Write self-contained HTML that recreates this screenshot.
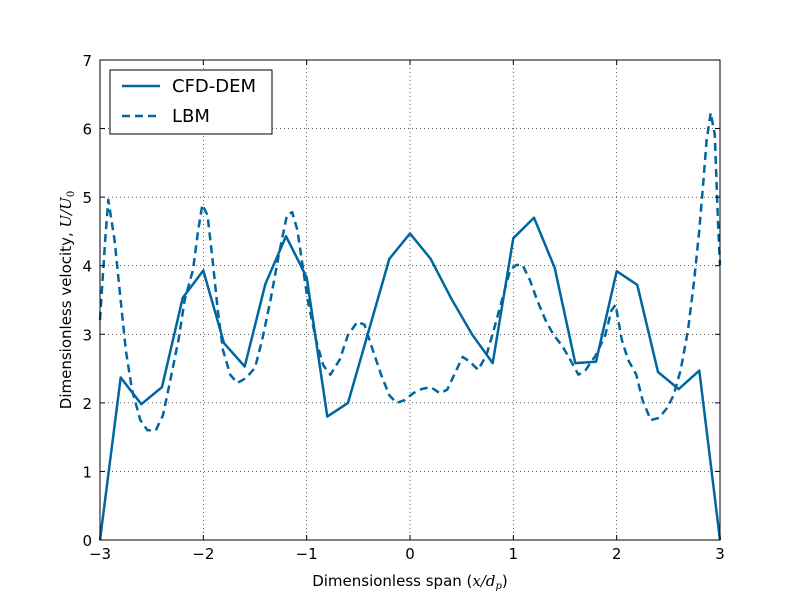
<!DOCTYPE html>
<html><head><meta charset="utf-8"><style>
body{margin:0;background:#fff;}
svg{display:block;font-family:"DejaVu Sans","Liberation Sans",sans-serif;}
</style></head><body>
<svg id="chart" width="800" height="600">
<rect x="0" y="0" width="800" height="600" fill="#fff"/>
<g id="grid"></g>
<g id="series"></g>
<rect x="100" y="60" width="620" height="480" fill="none" stroke="#000" stroke-width="1"/>
<g id="ticks"></g>
<text x="410" y="586" text-anchor="middle" font-size="15">Dimensionless span (<tspan font-style="italic" font-family="DejaVu Serif">x/d</tspan><tspan font-style="italic" font-family="DejaVu Serif" font-size="10" dy="3">p</tspan><tspan dy="-3">)</tspan></text>
<text transform="translate(71,300) rotate(-90)" text-anchor="middle" font-size="15">Dimensionless velocity, <tspan font-style="italic" font-family="DejaVu Serif">U/U</tspan><tspan font-family="DejaVu Serif" font-size="10" dy="3">0</tspan></text>
<g>
<rect x="110" y="70" width="162" height="64" fill="#fff" stroke="#000" stroke-width="1"/>
<line x1="122" y1="86" x2="160" y2="86" stroke="#0066a0" stroke-width="2.5"/>
<text x="172" y="92" font-size="18">CFD-DEM</text>
<line x1="122" y1="116" x2="160" y2="116" stroke="#0066a0" stroke-width="2.5" stroke-dasharray="8,5"/>
<text x="172" y="122" font-size="18">LBM</text>
</g>
</svg>
<script>
const xTicks=[-3,-2,-1,0,1,2,3];
const yTicks=[0,1,2,3,4,5,6,7];
const cfdX=[-3,-2.8,-2.6,-2.4,-2.2,-2,-1.8,-1.6,-1.4,-1.2,-1,-0.8,-0.6,-0.4,-0.2,0,0.2,0.4,0.6,0.8,1,1.2,1.4,1.6,1.8,2,2.2,2.4,2.6,2.8,3];
const cfdY=[0,2.37,1.98,2.23,3.53,3.93,2.87,2.53,3.73,4.43,3.83,1.8,2.0,3.05,4.1,4.47,4.1,3.52,3.0,2.58,4.4,4.7,3.97,2.58,2.6,3.92,3.72,2.45,2.2,2.47,0];
const lbmX=[-3.0,-2.95,-2.92,-2.86,-2.81,-2.75,-2.69,-2.61,-2.54,-2.46,-2.39,-2.32,-2.24,-2.18,-2.10,-2.05,-2.01,-1.96,-1.91,-1.86,-1.81,-1.74,-1.67,-1.59,-1.50,-1.43,-1.35,-1.27,-1.19,-1.14,-1.09,-1.04,-0.99,-0.91,-0.84,-0.77,-0.68,-0.60,-0.51,-0.44,-0.36,-0.28,-0.20,-0.13,-0.05,0.03,0.11,0.20,0.29,0.36,0.44,0.51,0.58,0.66,0.74,0.81,0.89,0.97,1.03,1.09,1.16,1.23,1.31,1.39,1.47,1.55,1.63,1.70,1.80,1.89,1.95,1.99,2.05,2.11,2.19,2.25,2.33,2.41,2.49,2.55,2.62,2.69,2.75,2.80,2.84,2.87,2.91,2.95,2.98,3.0];
const lbmY=[3.21,4.38,4.96,4.38,3.65,2.77,2.19,1.75,1.60,1.60,1.82,2.33,2.92,3.50,3.94,4.52,4.89,4.74,4.08,3.35,2.77,2.41,2.29,2.36,2.51,2.92,3.50,4.16,4.74,4.78,4.52,4.01,3.50,2.92,2.55,2.41,2.63,2.99,3.18,3.14,2.77,2.41,2.11,2.00,2.04,2.14,2.20,2.23,2.14,2.19,2.45,2.67,2.60,2.48,2.70,3.06,3.50,3.94,4.01,4.01,3.79,3.50,3.21,2.99,2.84,2.63,2.41,2.48,2.70,2.99,3.35,3.43,2.92,2.63,2.41,2.04,1.75,1.78,1.93,2.11,2.48,3.06,3.79,4.52,5.25,5.83,6.23,5.91,4.67,4.01];
const NS="http://www.w3.org/2000/svg";
const X0=100,X1=720,Y0=540,Y1=60;
function sx(v){return X0+(v+3)/6*(X1-X0);}
function sy(v){return Y0-v/7*(Y0-Y1);}
function mk(tag,attrs,parent){const e=document.createElementNS(NS,tag);for(const k in attrs)e.setAttribute(k,attrs[k]);parent.appendChild(e);return e;}
const grid=document.getElementById('grid'),ticks=document.getElementById('ticks'),series=document.getElementById('series');
xTicks.forEach(t=>{
  const x=sx(t);
  const g=mk('line',{x1:x,y1:Y1,x2:x,y2:Y0,stroke:'#000','stroke-width':0.6,'stroke-dasharray':'1,3'},grid);
  
  
  const a=mk('line',{x1:x,y1:Y0,x2:x,y2:Y0-5,stroke:'#000'},ticks);
  
  
  const b=mk('line',{x1:x,y1:Y1,x2:x,y2:Y1+5,stroke:'#000'},ticks);
  
  
  const l=mk('text',{x:x,y:Y0+19,'text-anchor':'middle','font-size':15},ticks);
  l.textContent=(t<0?'\u2212'+(-t):String(t));
  
  
});
yTicks.forEach(t=>{
  const y=sy(t);
  const g=mk('line',{x1:X0,y1:y,x2:X1,y2:y,stroke:'#000','stroke-width':0.6,'stroke-dasharray':'1,3'},grid);
  
  
  const a=mk('line',{x1:X0,y1:y,x2:X0+5,y2:y,stroke:'#000'},ticks);
  
  
  const b=mk('line',{x1:X1,y1:y,x2:X1-5,y2:y,stroke:'#000'},ticks);
  
  
  const l=mk('text',{x:X0-8,y:y+6,'text-anchor':'end','font-size':15},ticks);
  l.textContent=String(t);
  
  
});
function pts(xs,ys){return xs.map((v,i)=>sx(v).toFixed(1)+','+sy(ys[i]).toFixed(1)).join(' ');}
const c=mk('polyline',{points:pts(cfdX,cfdY),fill:'none',stroke:'#0066a0','stroke-width':2.5,'stroke-linejoin':'round'},series);


const d=mk('polyline',{points:pts(lbmX,lbmY),fill:'none',stroke:'#0066a0','stroke-width':2.5,'stroke-dasharray':'8,5','stroke-linejoin':'round'},series);


</script>
</body></html>
